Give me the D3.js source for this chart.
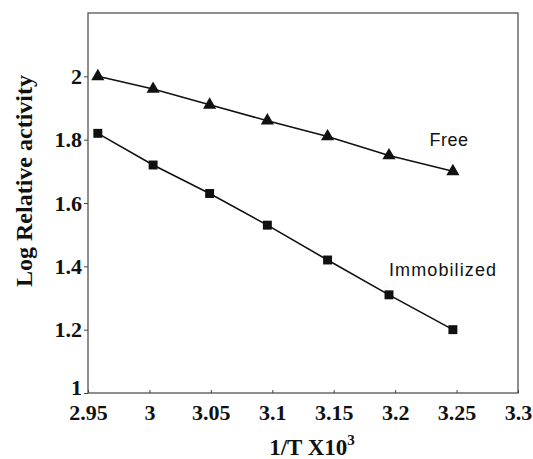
<!DOCTYPE html>
<html>
<head>
<meta charset="utf-8">
<script src="https://cdn.jsdelivr.net/npm/d3@7"></script>
<style>
    body { margin: 0; background: #fff; }
    .tick text { font-family: "Liberation Serif", "Times New Roman", serif; font-weight: bold; font-size: 22px; fill: #111; }
</style>
</head>
<body>
<div id="chart-area"></div>
<script>
// data
var invT = [2.958, 3.003, 3.049, 3.096, 3.145, 3.195, 3.247];
var freeAct = [2.0, 1.96, 1.91, 1.86, 1.81, 1.75, 1.70];
var immobAct = [1.82, 1.72, 1.63, 1.53, 1.42, 1.31, 1.20];
var xTicks = [2.95, 3, 3.05, 3.1, 3.15, 3.2, 3.25, 3.3];
var yTicks = [1, 1.2, 1.4, 1.6, 1.8, 2];

var margin = { top: 13, right: 15, bottom: 66, left: 88 };
var width = 533 - margin.left - margin.right;
var height = 459 - margin.top - margin.bottom;

var svg = d3.select("#chart-area")
    .append("svg")
    .attr("width", 533)
    .attr("height", 459);

var g = svg.append("g")
    .attr("transform", "translate(" + margin.left + ", " + margin.top + ")");

// SCALES
var x = d3.scaleLinear().domain([2.95, 3.3]).range([0, width]);
var y = d3.scaleLinear().domain([1, 2.2]).range([height, 0]);

// frame
g.append("rect")
    .attr("width", width)
    .attr("height", height)
    .attr("fill", "none")
    .attr("stroke", "#444")
    .attr("stroke-width", 1.2);

// AXES
var bottomAxis = d3.axisBottom(x)
    .tickValues(xTicks)
    .tickSize(-3)
    .tickPadding(11)
    .tickFormat((d) => +d.toFixed(2));
var leftAxis = d3.axisLeft(y)
    .tickValues(yTicks)
    .tickSize(4)
    .tickPadding(2)
    .tickFormat((d) => +d.toFixed(1));

g.append("g")
    .attr("class", "bottom axis")
    .attr("transform", "translate(0, " + height + ")")
    .call(bottomAxis)
    .call((a) => a.select(".domain").remove());

g.append("g")
    .attr("class", "left axis")
    .call(leftAxis)
    .call((a) => a.select(".domain").remove())
    .selectAll(".tick text")
    .attr("dy", (d) => d === 1 ? "0.05em" : "0.32em");

g.selectAll(".tick line").attr("stroke", "#444");

// axis titles
var xLab = svg.append("text")
    .attr("x", 312)
    .attr("y", 455)
    .attr("text-anchor", "middle")
    .attr("font-family", "Liberation Serif, Times New Roman, serif")
    .attr("font-weight", "bold")
    .attr("font-size", "23px")
    .attr("fill", "#111");
xLab.append("tspan").text("1/T X10");
xLab.append("tspan").attr("dy", -10).attr("font-size", "15px").text("3");

svg.append("text")
    .attr("transform", "translate(32, 181) rotate(-90)")
    .attr("text-anchor", "middle")
    .attr("font-family", "Liberation Serif, Times New Roman, serif")
    .attr("font-weight", "bold")
    .attr("font-size", "24px")
    .attr("fill", "#111")
    .text("Log Relative activity");

// lines + markers
var series = [
    { name: "Free", values: freeAct, shape: d3.symbolTriangle, size: 75 },
    { name: "Immobilized", values: immobAct, shape: d3.symbolSquare, size: 80 }
];

var line = d3.line()
    .x((d, i) => x(invT[i]))
    .y((d) => y(d));

series.forEach((s) => {
    g.append("path")
        .attr("d", line(s.values))
        .attr("fill", "none")
        .attr("stroke", "#111")
        .attr("stroke-width", 1.6);

    g.selectAll(null)
        .data(s.values)
        .enter()
        .append("path")
        .attr("d", d3.symbol().type(s.shape).size(s.size))
        .attr("transform", (d, i) => "translate(" + x(invT[i]) + "," + y(d) + ")")
        .attr("fill", "#111");
});

// series labels
g.append("text")
    .attr("x", x(3.228))
    .attr("y", y(1.78))
    .attr("font-family", "Liberation Sans, Arial, sans-serif")
    .attr("font-size", "18px")
    .attr("letter-spacing", "0.5px")
    .attr("fill", "#111")
    .text("Free");

g.append("text")
    .attr("x", x(3.195))
    .attr("y", y(1.37))
    .attr("font-family", "Liberation Sans, Arial, sans-serif")
    .attr("font-size", "18px")
    .attr("letter-spacing", "1.1px")
    .attr("fill", "#111")
    .text("Immobilized");
</script>
</body>
</html>
